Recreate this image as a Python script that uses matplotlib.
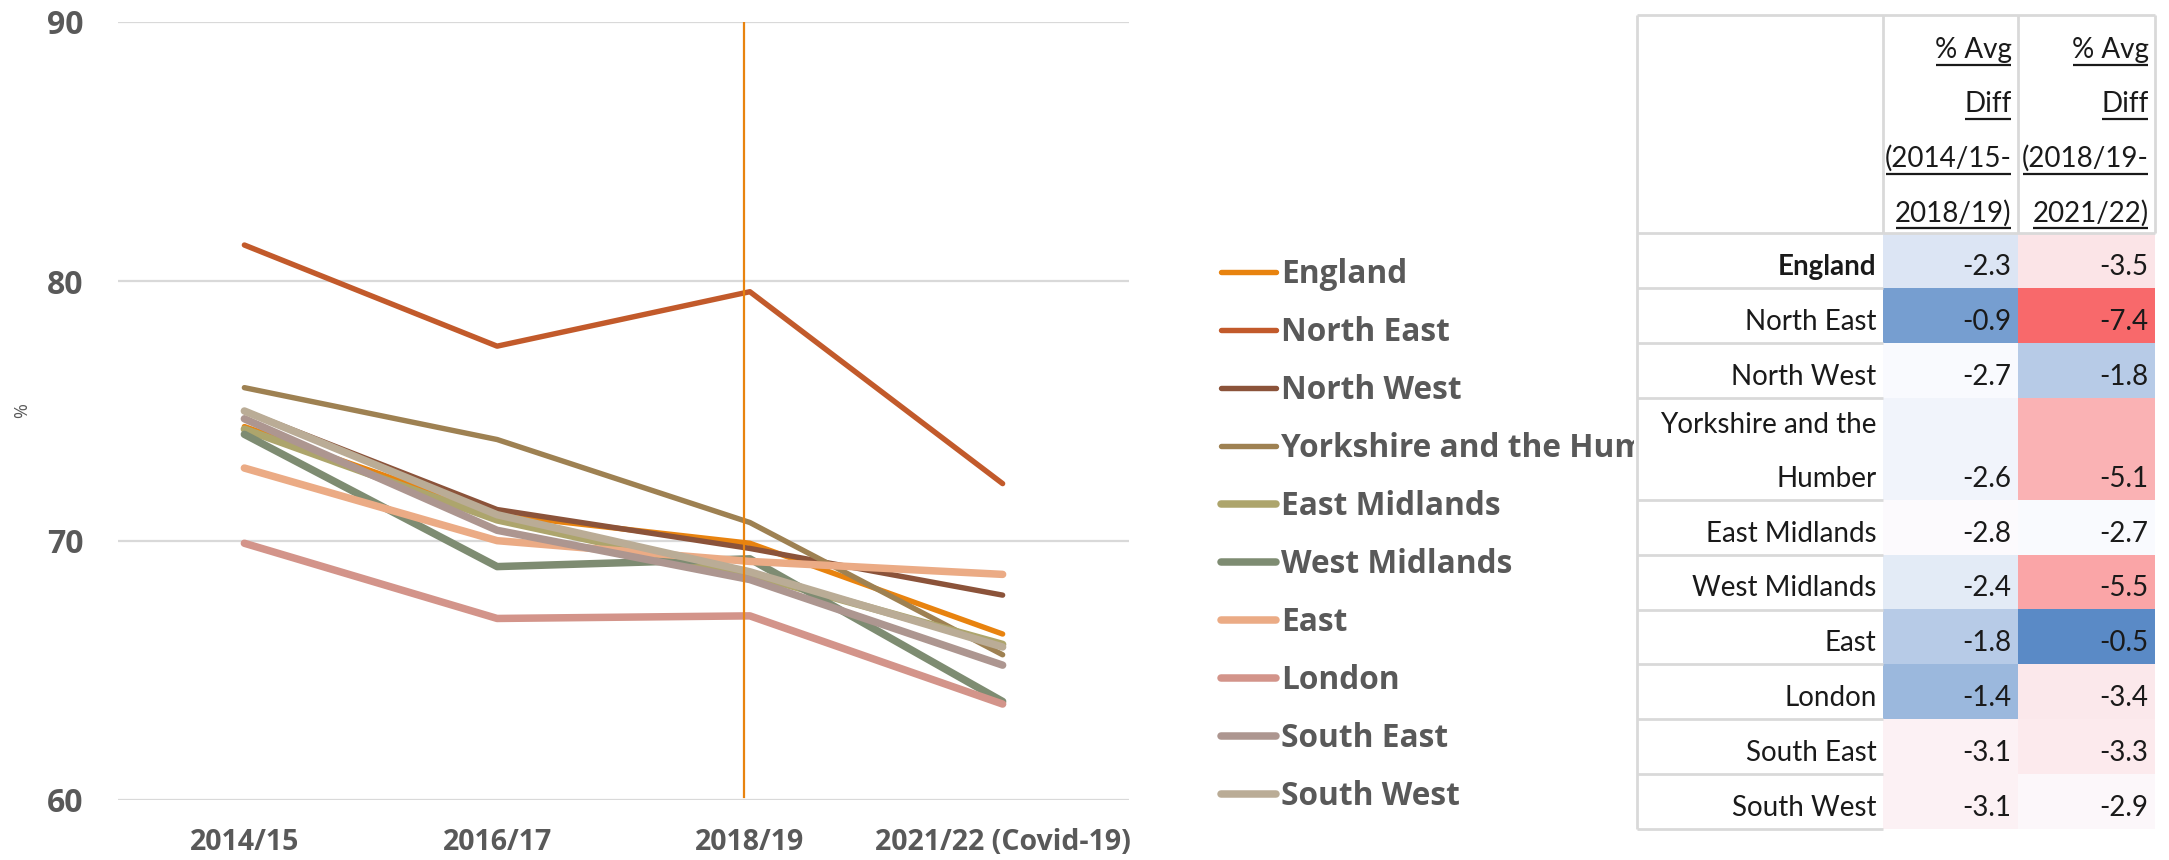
import matplotlib
matplotlib.use('Agg')
import matplotlib.pyplot as plt
import numpy as np
from matplotlib import font_manager
from matplotlib.colors import LinearSegmentedColormap, TwoSlopeNorm
from matplotlib.patches import Rectangle

# ─── Data ────────────────────────────────────────────────────────────────────
YEARS = ["2014/15", "2016/17", "2018/19", "2021/22 (Covid-19)"]
REGIONS = ["England", "North East", "North West", "Yorkshire and the Humber",
           "East Midlands", "West Midlands", "East", "London",
           "South East", "South West"]

ENGLAND       = [74.4, 71.0, 69.9, 66.4]
NORTH_EAST    = [81.4, 77.5, 79.6, 72.2]
NORTH_WEST    = [75.0, 71.2, 69.7, 67.9]
YORKSHIRE     = [75.9, 73.9, 70.7, 65.6]
EAST_MIDLANDS = [74.3, 70.8, 68.7, 66.0]
WEST_MIDLANDS = [74.1, 69.0, 69.3, 63.8]
EAST          = [72.8, 70.0, 69.2, 68.7]
LONDON        = [69.9, 67.0, 67.1, 63.7]
SOUTH_EAST    = [74.7, 70.4, 68.5, 65.2]
SOUTH_WEST    = [75.0, 71.0, 68.8, 65.9]
SERIES = [ENGLAND, NORTH_EAST, NORTH_WEST, YORKSHIRE, EAST_MIDLANDS,
          WEST_MIDLANDS, EAST, LONDON, SOUTH_EAST, SOUTH_WEST]

TABLE_LABELS = ["England", "North East", "North West", "Yorkshire and the\nHumber",
                "East Midlands", "West Midlands", "East", "London",
                "South East", "South West"]
TABLE_HEADERS = ["% Avg\nDiff\n(2014/15-\n2018/19)", "% Avg\nDiff\n(2018/19-\n2021/22)"]
DIFF_14_18 = [-2.3, -0.9, -2.7, -2.6, -2.8, -2.4, -1.8, -1.4, -3.1, -3.1]
DIFF_18_21 = [-3.5, -7.4, -1.8, -5.1, -2.7, -5.5, -0.5, -3.4, -3.3, -2.9]

# ─── Style ───────────────────────────────────────────────────────────────────
COLORS = ["#E8830F", "#C25A2B", "#8B533A", "#9E8152", "#ADA56C",
          "#7E8C72", "#EBAB85", "#D3948A", "#AD9690", "#BAAC96"]
WIDTHS = [3.9, 3.9, 3.9, 3.9, 5.4, 5.4, 5.4, 5.4, 5.4, 5.4]
GREY_TXT = "#595959"
GRID = "#D9D9D9"
FONT = "Open Sans"

names = {f.name for f in font_manager.fontManager.ttflist}
if "Liberation Sans Narrow" in names:
    TFONT, TSIZE = "Liberation Sans Narrow", 24
else:
    TFONT, TSIZE = "Lato", 20

W, H = 2169, 860
fig = plt.figure(figsize=(W / 100, H / 100), dpi=100)

# ─── Line chart ──────────────────────────────────────────────────────────────
ax = fig.add_axes([118 / W, 60 / H, (1129 - 118) / W, (800 - 22) / H])
x = np.arange(len(YEARS))
for name, vals, col, lw in zip(REGIONS, SERIES, COLORS, WIDTHS):
    ax.plot(x, vals, color=col, lw=lw, solid_capstyle="round",
            solid_joinstyle="round", label=name)

# marker line at 2018/19
ax.axvline(1.975, ymin=0.004, ymax=1, color="#E8830F", lw=1.6, zorder=5)

ax.set_xlim(-0.5, 3.5)
ax.set_ylim(60, 90)
ax.set_yticks([60, 70, 80, 90])
ax.set_xticks(x)
ax.set_xticklabels(YEARS)
ax.yaxis.grid(True, color=GRID, lw=1.6)
ax.set_axisbelow(True)
for s in ax.spines.values():
    s.set_visible(False)
ax.tick_params(axis="y", length=0, pad=25, labelsize=23, labelcolor=GREY_TXT)
ax.tick_params(axis="x", length=0, pad=20, labelsize=20.5, labelcolor=GREY_TXT)
for t in ax.get_xticklabels() + ax.get_yticklabels():
    t.set_fontfamily(FONT)
    t.set_fontweight("bold")

fig.text(22 / W, 1 - 411 / H, "%", rotation=90, ha="center", va="center",
         fontsize=13, color=GREY_TXT, family=FONT)

leg = ax.legend(loc="upper left", bbox_to_anchor=(1221 / W, 1 - 258 / H),
                bbox_transform=fig.transFigure, frameon=False,
                prop=dict(family=FONT, weight="bold", size=22.8),
                handlelength=1.75, handletextpad=0.16, labelspacing=0.79,
                borderpad=0, borderaxespad=0)
for t in leg.get_texts():
    t.set_color(GREY_TXT)

# ─── Table with 3-colour scale ───────────────────────────────────────────────
tax = fig.add_axes([1634 / W, 0, (W - 1634) / W, 1], facecolor="white")
tax.set_xlim(1634, W)
tax.set_ylim(H, 0)
tax.set_xticks([])
tax.set_yticks([])
for s in tax.spines.values():
    s.set_visible(False)

cmap = LinearSegmentedColormap.from_list("xl3", ["#F8696B", "#FCFCFF", "#5A8AC6"])
all_vals = np.array(DIFF_14_18 + DIFF_18_21)
norm = TwoSlopeNorm(vmin=all_vals.min(), vcenter=np.median(all_vals), vmax=all_vals.max())

col_edges = [1637, 1883, 2018, 2155]
head_top, head_bot = 15, 233
line_gap = 54.5
row_h = np.full(len(TABLE_LABELS), 54.9)
row_h[3] = 102
bottoms = head_bot + np.cumsum(row_h)
tops = bottoms - row_h
txt_kw = dict(family=TFONT, fontsize=TSIZE, color="#1A1A1A", va="baseline", ha="right")

# grid lines (label column + header)
tax.hlines([head_top], col_edges[0], col_edges[-1], color=GRID, lw=2)
tax.hlines([head_bot] + list(bottoms), col_edges[0], col_edges[1], color=GRID, lw=2)
tax.hlines([head_bot], col_edges[1], col_edges[-1], color=GRID, lw=2)
tax.vlines([col_edges[0]], head_top, bottoms[-1], color=GRID, lw=2)
tax.vlines(col_edges[1:], head_top, head_bot, color=GRID, lw=2)

for j, vals in enumerate([DIFF_14_18, DIFF_18_21]):
    for i, v in enumerate(vals):
        tax.add_patch(Rectangle((col_edges[j + 1], tops[i]),
                                col_edges[j + 2] - col_edges[j + 1], row_h[i],
                                facecolor=cmap(norm(v)), edgecolor="none"))
        tax.text(col_edges[j + 2] - 6.4, bottoms[i] - 13, f"{v:.1f}", **txt_kw)

for i, lab in enumerate(TABLE_LABELS):
    for k, line in enumerate(reversed(lab.split("\n"))):
        tax.text(col_edges[1] - 6.4, bottoms[i] - 13 - k * 54, line,
                 fontweight="bold" if i == 0 else "normal", **txt_kw)

head_texts = []
for j, hdr in enumerate(TABLE_HEADERS):
    for k, line in enumerate(reversed(hdr.split("\n"))):
        head_texts.append(tax.text(col_edges[j + 2] - 6.4, head_bot - 11.6 - k * line_gap,
                                   line, **txt_kw))

# underline header lines (Excel underlined text)
fig.canvas.draw()
rend = fig.canvas.get_renderer()
inv = tax.transData.inverted()
for t in head_texts:
    bb = t.get_window_extent(rend)
    (x0, _), (x1, _) = inv.transform([(bb.x0, bb.y0), (bb.x1, bb.y0)])
    y = t.get_position()[1] + 7
    tax.plot([x0 + 1, x1 - 1], [y, y], color="#1A1A1A", lw=1.6, solid_capstyle="butt")

fig.savefig("out.png", dpi=100)
print("saved out.png")
